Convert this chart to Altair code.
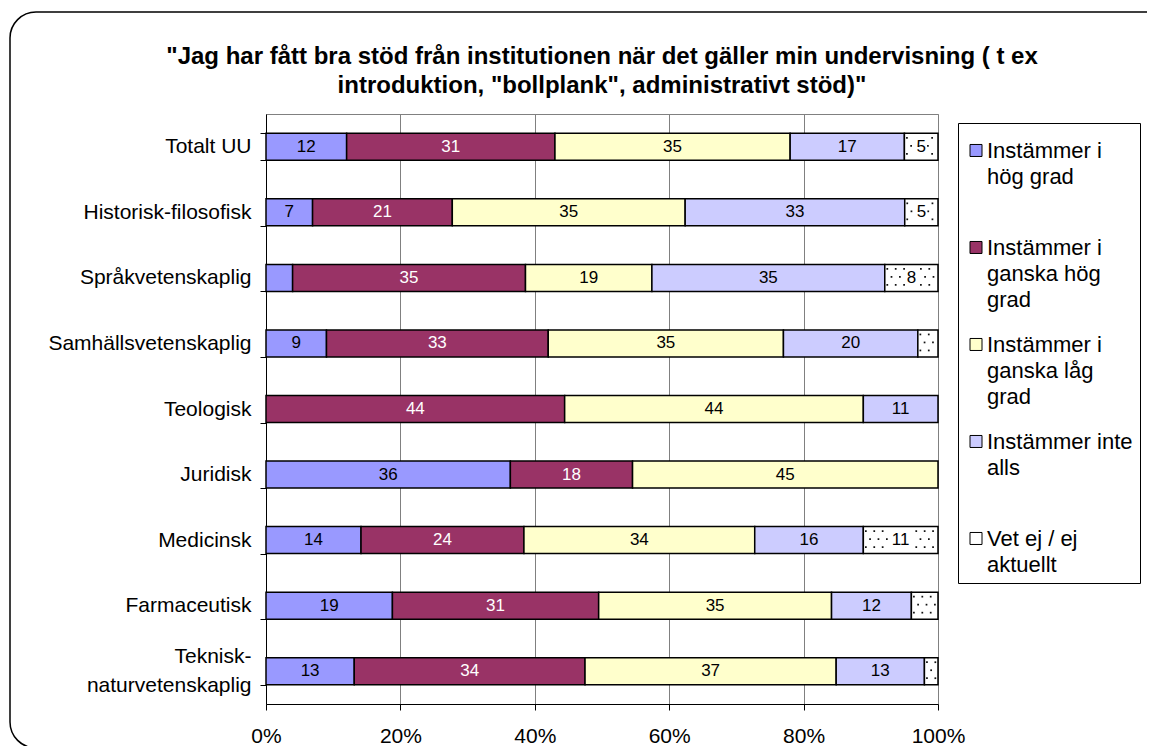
import altair as alt
import pandas as pd

categories = [
    "Totalt UU",
    "Historisk-filosofisk",
    "Språkvetenskaplig",
    "Samhällsvetenskaplig",
    "Teologisk",
    "Juridisk",
    "Medicinsk",
    "Farmaceutisk",
    "Teknisk-naturvetenskaplig",
]
answers = [
    "Instämmer i hög grad",
    "Instämmer i ganska hög grad",
    "Instämmer i ganska låg grad",
    "Instämmer inte alls",
    "Vet ej / ej aktuellt",
]
hog_grad = [12, 7, 4, 9, 0, 36, 14, 19, 13]
ganska_hog_grad = [31, 21, 35, 33, 44, 18, 24, 31, 34]
ganska_lag_grad = [35, 35, 19, 35, 44, 45, 34, 35, 37]
inte_alls = [17, 33, 35, 20, 11, 0, 16, 12, 13]
vet_ej = [5, 5, 8, 3, 0, 0, 11, 4, 2]
series = [hog_grad, ganska_hog_grad, ganska_lag_grad, inte_alls, vet_ej]
colors = ["#9999FF", "#993366", "#FFFFCC", "#CCCCFF", "#FFFFFF"]
x_ticks = [0, 0.2, 0.4, 0.6, 0.8, 1.0]
title_lines = [
    '"Jag har fått bra stöd från institutionen när det gäller min undervisning ( t ex',
    'introduktion, "bollplank", administrativt stöd)"',
]

rows = []
for ai, (ans, vals) in enumerate(zip(answers, series)):
    for cat, v in zip(categories, vals):
        rows.append({"kategori": cat, "svar": ans, "ordning": ai, "varde": v})
df = pd.DataFrame(rows)

FONT = "Liberation Sans"

base = (
    alt.Chart(df)
    .transform_filter("datum.varde > 0")
    .transform_stack(
        stack="varde",
        groupby=["kategori"],
        as_=["x0", "x1"],
        sort=[alt.SortField("ordning", order="ascending")],
        offset="normalize",
    )
    .transform_calculate(mid="(datum.x0 + datum.x1) / 2")
)

nb = "\u00a0" * 7
y_enc = alt.Y(
    "kategori:N",
    sort=categories,
    title=None,
    scale=alt.Scale(paddingInner=0.588, paddingOuter=0.294),
    axis=alt.Axis(
        tickBand="extent",
        tickSize=6,
        tickColor="black",
        domainColor="black",
        labelFontSize=21,
        labelColor="black",
        labelPadding=9,
        labelLineHeight=29,
        labelLimit=400,
        labelOffset={
            "condition": {"test": "datum.value == 'Teknisk-naturvetenskaplig'", "value": -14.5},
            "value": 0,
        },
        labelExpr=f"datum.value == 'Teknisk-naturvetenskaplig' ? ['{nb}Teknisk-', 'naturvetenskaplig'] : datum.label",
        grid=False,
    ),
)

legend_expr = (
    "datum.label == 'Instämmer i hög grad' ? ['Instämmer i', 'hög grad', ''] : "
    "datum.label == 'Instämmer i ganska hög grad' ? ['Instämmer i', 'ganska hög', 'grad'] : "
    "datum.label == 'Instämmer i ganska låg grad' ? ['Instämmer i', 'ganska låg', 'grad'] : "
    "datum.label == 'Instämmer inte alls' ? ['Instämmer inte', 'alls', ''] : "
    "['Vet ej / ej', 'aktuellt']"
)

bars = base.mark_bar(stroke="black", strokeWidth=1.5).encode(
    x=alt.X(
        "x0:Q",
        title=None,
        scale=alt.Scale(domain=[0, 1], nice=False),
        axis=alt.Axis(
            format="%",
            values=x_ticks,
            grid=True,
            gridColor="#808080",
            gridWidth=1,
            tickSize=6,
            tickColor="black",
            domainColor="black",
            labelFontSize=21,
            labelColor="black",
            labelPadding=15,
            labelFlush=False,
        ),
    ),
    x2="x1:Q",
    y=y_enc,
    color=alt.Color(
        "svar:N",
        scale=alt.Scale(domain=answers, range=colors),
        legend=alt.Legend(
            title=None,
            orient="none",
            legendX=692,
            legendY=9,
            direction="vertical",
            symbolType="M-1,0.58H1V2.58H-1Z",
            symbolSize=144,
            symbolStrokeColor="black",
            symbolStrokeWidth=1,
            labelFontSize=22,
            labelBaseline="top",
            labelOffset=0,
            labelLimit=400,
            labelColor="black",
            labelExpr=legend_expr,
            strokeColor="black",
            fillColor="white",
            padding=7,
            rowPadding=13,
        ),
    ),
)

# dotted texture of the "Vet ej / ej aktuellt" segments (three staggered dot rows),
# leaving a gap around the value label
def dot_row(y_shift, phase):
    return (
        base.transform_filter("datum.svar == 'Vet ej / ej aktuellt'")
        .transform_calculate(k="sequence(0, 30)")
        .transform_flatten(["k"])
        .transform_calculate(xd=f"datum.x0 + (datum.k + {phase}) * 0.0125")
        .transform_filter("datum.xd > datum.x0 + 0.003 && datum.xd < datum.x1 - 0.003")
        .transform_filter(
            "datum.varde < 5 || abs(datum.xd - datum.mid) > (datum.varde >= 10 ? 0.017 : 0.009)"
        )
        .mark_square(size=3, color="#111111", opacity=1, yOffset=y_shift)
        .encode(x=alt.X("xd:Q"), y=alt.Y("kategori:N", sort=categories))
    )

dots = [dot_row(-9, 0.3), dot_row(-1, 0.8), dot_row(7, 0.3)]

labels = (
    base.transform_filter("datum.varde >= 5")
    .mark_text(fontSize=17, font=FONT)
    .encode(
        x=alt.X("mid:Q"),
        y=alt.Y("kategori:N", sort=categories),
        text=alt.Text("varde:Q"),
        color=alt.condition(
            "datum.svar == 'Instämmer i ganska hög grad'",
            alt.value("white"),
            alt.value("black"),
        ),
    )
)

frame = (
    alt.Chart(alt.Data(values=[{"ram": 1}]))
    .mark_rect(fillOpacity=0, stroke="black", strokeWidth=1.5, cornerRadius=26)
    .encode(
        x=alt.value(-256),
        x2=alt.value(907),
        y=alt.value(-102),
        y2=alt.value(634),
    )
)

chart = (
    alt.layer(frame, bars, *dots, labels)
    .properties(
        width=672,
        height=590,
        autosize=alt.AutoSizeParams(type="none"),
        padding={"left": 258, "top": 106, "right": 209, "bottom": 42},
        background="white",
        title=alt.TitleParams(
            text=title_lines,
            fontSize=24,
            fontWeight="bold",
            font=FONT,
            color="black",
            anchor="middle",
            frame="group",
            offset=-87,
            lineHeight=29,
        ),
    )
    .configure(font=FONT, style={"guide-label": {"lineHeight": 26}})
    .configure_view(stroke="#808080", strokeWidth=1)
)

chart.save("out.html", embed_options={"renderer": "svg", "actions": False})
